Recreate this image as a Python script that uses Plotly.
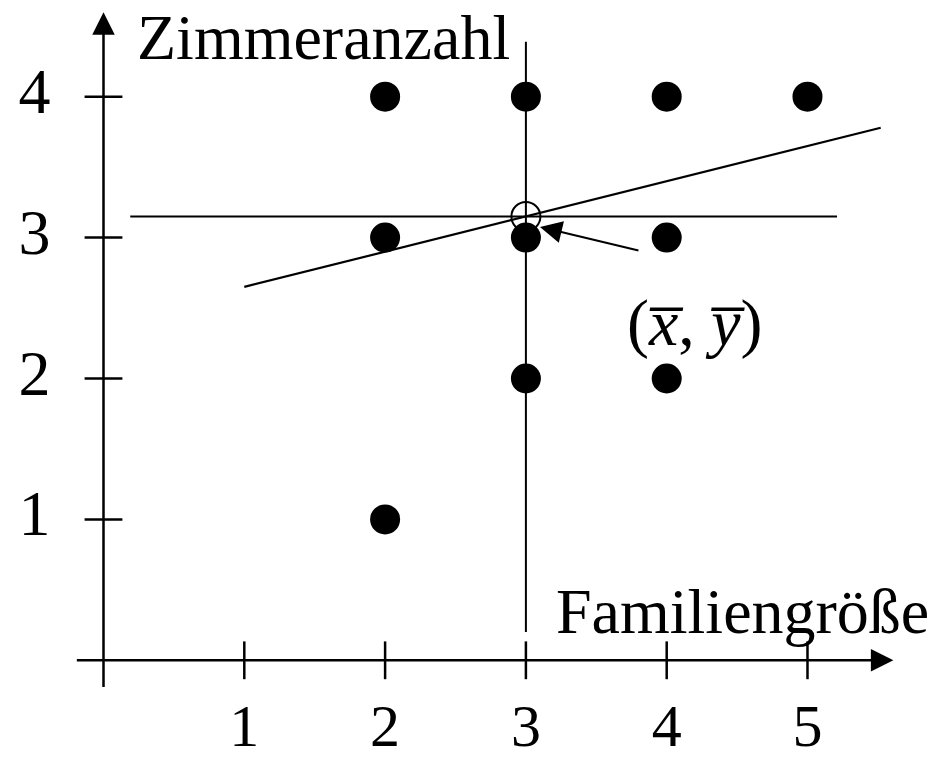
import plotly.graph_objects as go

# ---- data ----
family_size = [2, 3, 4, 5, 2, 3, 4, 3, 4, 2]
rooms = [4, 4, 4, 4, 3, 3, 3, 2, 2, 1]
mean_x = [3.0]
mean_y = [3.15]
reg_x = [1.0, 5.52]
reg_y = [2.65, 3.78]
hline_x = [0.19, 5.21]
vline_y = [0.2, 4.39]
x_ticks = [1, 2, 3, 4, 5]
y_ticks = [1, 2, 3, 4]
x_tick_labels = ["1", "2", "3", "4", "5"]
y_tick_labels = ["1", "2", "3", "4"]
x_title = "Familiengröße"
y_title = "Zimmeranzahl"
mean_label = "(<i>x̅</i>, <i>y̅</i>)"

FONT = "Liberation Serif"
FS = 64
TICK_FS = 60
BLACK = "black"

fig = go.Figure()

# mean lines
fig.add_trace(go.Scatter(x=hline_x, y=[mean_y[0]] * 2, mode="lines",
                         line=dict(color=BLACK, width=2), hoverinfo="skip"))
fig.add_trace(go.Scatter(x=[mean_x[0]] * 2, y=vline_y, mode="lines",
                         line=dict(color=BLACK, width=2), hoverinfo="skip"))
# regression line
fig.add_trace(go.Scatter(x=reg_x, y=reg_y, mode="lines",
                         line=dict(color=BLACK, width=2.2), hoverinfo="skip"))

# tick marks (crossing the axes)
fig.add_trace(go.Scatter(x=x_ticks, y=[0] * len(x_ticks), mode="markers",
                         marker=dict(symbol="line-ns", size=27, color=BLACK,
                                     line=dict(color=BLACK, width=2.5)),
                         hoverinfo="skip", cliponaxis=False))
fig.add_trace(go.Scatter(x=[0] * len(y_ticks), y=y_ticks, mode="markers",
                         marker=dict(symbol="line-ew", size=27, color=BLACK,
                                     line=dict(color=BLACK, width=2.5)),
                         hoverinfo="skip", cliponaxis=False))

# data points
fig.add_trace(go.Scatter(x=family_size, y=rooms, mode="markers",
                         marker=dict(symbol="circle", size=30, color=BLACK,
                                     line=dict(width=0))))
# mean point
fig.add_trace(go.Scatter(x=mean_x, y=mean_y, mode="markers",
                         marker=dict(symbol="circle-open", size=29, color=BLACK,
                                     line=dict(color=BLACK, width=2))))

# tick labels
fig.add_trace(go.Scatter(x=x_ticks, y=[-0.5] * len(x_ticks), mode="text",
                         text=x_tick_labels, textposition="middle center",
                         textfont=dict(family=FONT, size=TICK_FS, color=BLACK),
                         hoverinfo="skip", cliponaxis=False))
fig.add_trace(go.Scatter(x=[-0.49] * len(y_ticks), y=y_ticks, mode="text",
                         text=y_tick_labels, textposition="middle center",
                         textfont=dict(family=FONT, size=FS, color=BLACK),
                         hoverinfo="skip", cliponaxis=False))

annotations = [
    # x axis with arrow
    dict(x=5.61, y=0, ax=-0.2, ay=0, xref="x", yref="y", axref="x", ayref="y",
         text="", showarrow=True, arrowhead=2, arrowsize=1.8, arrowwidth=2.5,
         arrowcolor=BLACK),
    # y axis with arrow
    dict(x=0, y=4.6, ax=0, ay=-0.2, xref="x", yref="y", axref="x", ayref="y",
         text="", showarrow=True, arrowhead=2, arrowsize=1.8, arrowwidth=2.5,
         arrowcolor=BLACK),
    # arrow to mean point
    dict(x=3.10, y=3.076, ax=3.81, ay=2.906, xref="x", yref="y", axref="x",
         ayref="y", text="", showarrow=True, arrowhead=2, arrowsize=2.2,
         arrowwidth=2, arrowcolor=BLACK),
    # axis titles
    dict(x=1.566, y=4.417, xref="x", yref="y", text=y_title, showarrow=False,
         font=dict(family=FONT, size=FS, color=BLACK), xanchor="center",
         yanchor="middle"),
    dict(x=4.538, y=0.343, xref="x", yref="y", text=x_title, showarrow=False,
         font=dict(family=FONT, size=FS, color=BLACK), xanchor="center",
         yanchor="middle"),
    # mean label
    dict(x=4.20, y=2.394, xref="x", yref="y", text=mean_label, showarrow=False,
         font=dict(family=FONT, size=FS + 2, color=BLACK), xanchor="center",
         yanchor="middle"),
]

fig.update_layout(
    width=942, height=765,
    margin=dict(l=0, r=0, t=0, b=0),
    paper_bgcolor="white", plot_bgcolor="white",
    showlegend=False,
    xaxis=dict(visible=False, range=[-0.7351, 5.9553], fixedrange=True),
    yaxis=dict(visible=False, range=[-0.7431, 4.6863], fixedrange=True),
    annotations=annotations,
)

fig.write_html("out.html")
